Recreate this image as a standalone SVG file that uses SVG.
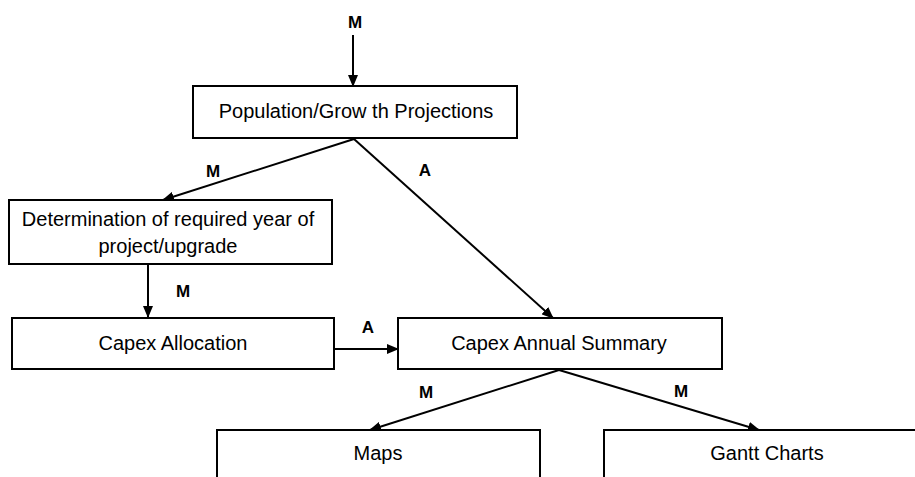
<svg xmlns="http://www.w3.org/2000/svg" width="915" height="477" viewBox="0 0 915 477">
<style>
.box{fill:#fff;stroke:#000;stroke-width:2}
.t{font-family:"Liberation Sans",Arial,sans-serif;font-size:20px;text-anchor:middle;fill:#000}
.lbl{font-family:"Liberation Sans",Arial,sans-serif;font-size:17px;font-weight:bold;text-anchor:middle;fill:#000}
.c{stroke:#000;stroke-width:2;fill:none;marker-end:url(#ah)}
</style>
<defs>
<marker id="ah" markerUnits="userSpaceOnUse" markerWidth="12" markerHeight="10" refX="11" refY="5" orient="auto">
<path d="M0,0 L12,5 L0,10 Z" fill="#000"/>
</marker>
</defs>
<rect width="915" height="477" fill="#fff"/>
<g id="connectors">
<line class="c" x1="353" y1="35" x2="353" y2="86"/>
<line class="c" x1="354" y1="139" x2="163" y2="200"/>
<line class="c" x1="354" y1="139" x2="553" y2="318"/>
<line class="c" x1="148" y1="264" x2="148" y2="317"/>
<line class="c" x1="334" y1="349" x2="398" y2="349"/>
<line class="c" x1="559" y1="370" x2="370" y2="430"/>
<line class="c" x1="559" y1="370" x2="759" y2="430"/>
</g>
<g id="labels">
<text class="lbl" x="355" y="28">M</text>
<text class="lbl" x="213" y="177">M</text>
<text class="lbl" x="425" y="176">A</text>
<text class="lbl" x="183" y="297">M</text>
<text class="lbl" x="368" y="333">A</text>
<text class="lbl" x="426" y="398">M</text>
<text class="lbl" x="681" y="397">M</text>
</g>
<g id="population">
<rect class="box" x="193" y="86" width="324" height="52"/>
<text class="t" x="356" y="118">Population/Grow th Projections</text>
</g>
<g id="determination">
<rect class="box" x="9" y="200" width="323" height="64"/>
<text class="t" x="168" y="226">Determination of  required year of</text>
<text class="t" x="168" y="253">project/upgrade</text>
</g>
<g id="capex-allocation">
<rect class="box" x="12" y="318" width="322" height="51"/>
<text class="t" x="173" y="350">Capex Allocation</text>
</g>
<g id="capex-summary">
<rect class="box" x="398" y="318" width="324" height="51"/>
<text class="t" x="559" y="350">Capex Annual Summary</text>
</g>
<g id="maps">
<rect class="box" x="217" y="430" width="323" height="60"/>
<text class="t" x="378" y="460">Maps</text>
</g>
<g id="gantt">
<rect class="box" x="604" y="430" width="326" height="60"/>
<text class="t" x="767" y="460">Gantt Charts</text>
</g>
</svg>
